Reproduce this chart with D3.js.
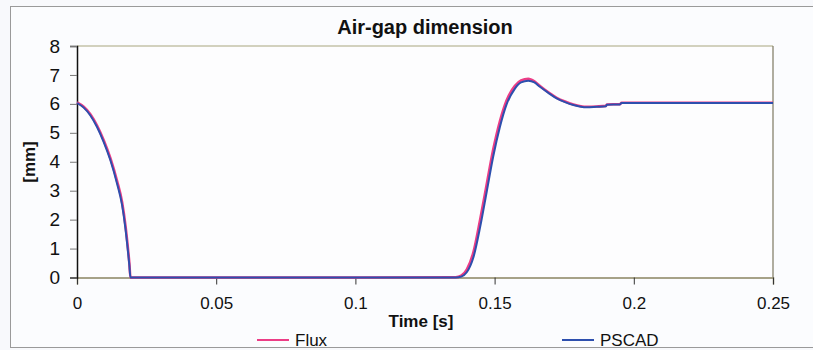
<!DOCTYPE html>
<html>
<head>
<meta charset="utf-8">
<script src="https://cdn.jsdelivr.net/npm/d3@7"></script>
<style>
  html, body { margin: 0; padding: 0; background: #f8f9fc; }
  svg { display: block; }
  text { font-family: "Liberation Sans", Arial, sans-serif; fill: #111; }
</style>
</head>
<body>
<svg id="chart" width="813" height="350"></svg>
<script>
// ---- data ----
const time = [0, 0.0024, 0.0048, 0.0072, 0.0096, 0.012, 0.0144, 0.0162, 0.0174, 0.0182, 0.0188, 0.0192,
  0.05, 0.1, 0.136, 0.138, 0.140, 0.1424, 0.1448, 0.1472, 0.1495, 0.1519, 0.1543, 0.1573, 0.1595,
  0.1621, 0.1643, 0.1663, 0.1693, 0.1723, 0.1753, 0.1783, 0.1831, 0.1867, 0.1900, 0.1903, 0.1950,
  0.1956, 0.25];
const pscad = [6.03, 5.87, 5.6, 5.2, 4.68, 4.05, 3.24, 2.5, 1.69, 1.0, 0.43, 0,
  0, 0, 0, 0.03, 0.18, 0.70, 1.74, 2.98, 4.18, 5.20, 5.98, 6.53, 6.74,
  6.80, 6.74, 6.59, 6.38, 6.19, 6.06, 5.96, 5.88, 5.90, 5.92, 5.97, 5.98,
  6.03, 6.03];
const flux = [6.05, 5.9, 5.64, 5.25, 4.74, 4.12, 3.33, 2.6, 1.8, 1.1, 0.5, 0,
  0, 0, 0.01, 0.06, 0.27, 0.88, 2.0, 3.24, 4.42, 5.40, 6.12, 6.62, 6.81,
  6.87, 6.78, 6.62, 6.40, 6.21, 6.08, 5.98, 5.90, 5.91, 5.93, 5.98, 5.99,
  6.04, 6.04];
const xTicks = [0, 0.05, 0.1, 0.15, 0.2, 0.25];
const xTickLabels = ["0", "0.05", "0.1", "0.15", "0.2", "0.25"];
const yTicks = [0, 1, 2, 3, 4, 5, 6, 7, 8];
const seriesNames = ["Flux", "PSCAD"];
const seriesColors = ["#ec3d86", "#2d4fae"];

// ---- layout ----
const svg = d3.select("#chart");
const L = 77, R = 773, T = 46, B = 277.5;

const x = d3.scaleLinear().domain([0, 0.25]).range([L, R]);
const y = d3.scaleLinear().domain([0, 8]).range([B, T]);

// outer frame
svg.append("rect").attr("x", 10.5).attr("y", 6.5).attr("width", 830).attr("height", 341)
  .attr("fill", "#fbfcfe").attr("stroke", "#9a9a9a").attr("stroke-width", 1);

// plot area
svg.append("rect").attr("x", L).attr("y", T).attr("width", R - L).attr("height", B - T)
  .attr("fill", "#fdfdfe");
svg.append("line").attr("x1", L).attr("x2", R).attr("y1", T).attr("y2", T)
  .attr("stroke", "#a8a67e").attr("stroke-width", 1);
svg.append("line").attr("x1", R).attr("x2", R).attr("y1", T).attr("y2", B)
  .attr("stroke", "#7d7860").attr("stroke-width", 1.2);

// title
svg.append("text").attr("x", 425).attr("y", 34).attr("text-anchor", "middle")
  .attr("font-size", 20).attr("font-weight", "bold").text("Air-gap dimension");

// axes
const xAxis = d3.axisBottom(x).tickValues(xTicks)
  .tickFormat((d, i) => xTickLabels[i]).tickSize(7).tickPadding(12);
const gx = svg.append("g").attr("transform", `translate(0,${B})`).call(xAxis);
gx.select(".domain").attr("stroke", "#8a8462").attr("stroke-width", 1.5);
gx.selectAll(".tick line").attr("stroke", "#333");
gx.selectAll(".tick text").attr("font-size", 17).attr("fill", "#111")
  .attr("font-family", "Liberation Sans, Arial, sans-serif");

const yAxis = d3.axisLeft(y).tickValues(yTicks).tickSize(7).tickPadding(10);
const gy = svg.append("g").attr("transform", `translate(${L},0)`).call(yAxis);
gy.select(".domain").attr("stroke", "#111").attr("stroke-width", 1.5);
gy.selectAll(".tick line").attr("stroke", "#777");
gy.selectAll(".tick text").attr("font-size", 19).attr("fill", "#111")
  .attr("font-family", "Liberation Sans, Arial, sans-serif");

// axis titles
svg.append("text").attr("transform", "translate(35,162) rotate(-90)").attr("text-anchor", "middle")
  .attr("font-size", 17).attr("font-weight", "bold").text("[mm]");
svg.append("text").attr("x", 421).attr("y", 327).attr("text-anchor", "middle")
  .attr("font-size", 17).attr("font-weight", "bold").text("Time [s]");

// lines
const line = vals => d3.line()
  .x((d, i) => x(time[i]))
  .y((d, i) => y(vals[i]))
  .curve(d3.curveMonotoneX)(vals);

svg.append("path").attr("d", line(flux)).attr("fill", "none")
  .attr("stroke", seriesColors[0]).attr("stroke-width", 2.6);
svg.append("path").attr("d", line(pscad)).attr("fill", "none")
  .attr("stroke", seriesColors[1]).attr("stroke-width", 2);

// legend
const legendX = [257, 562];
seriesNames.forEach((name, i) => {
  svg.append("line").attr("x1", legendX[i]).attr("x2", legendX[i] + 32)
    .attr("y1", 340).attr("y2", 340).attr("stroke", seriesColors[i]).attr("stroke-width", 2);
  svg.append("text").attr("x", legendX[i] + 38).attr("y", 346)
    .attr("font-size", 17).text(name);
});
</script>
</body>
</html>
